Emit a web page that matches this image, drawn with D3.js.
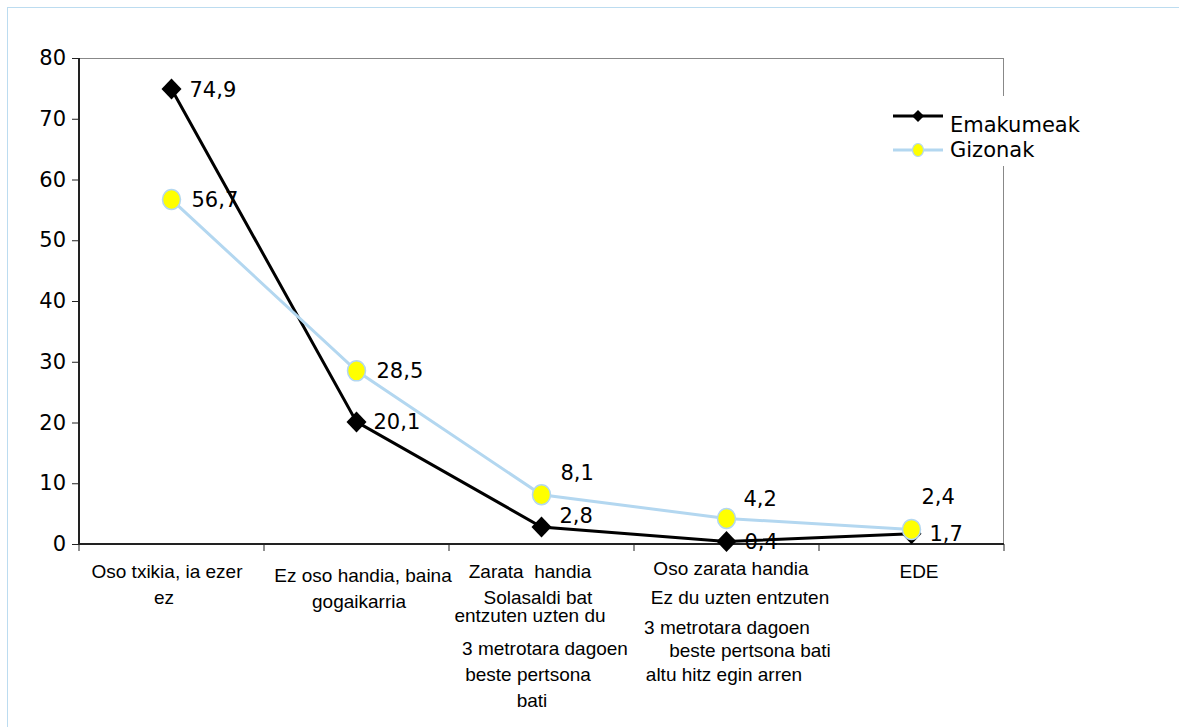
<!DOCTYPE html>
<html>
<head>
<meta charset="utf-8">
<script src="https://cdn.jsdelivr.net/npm/d3@7"></script>
<style>
  html, body { margin: 0; padding: 0; background: #fff; }
  svg { display: block; }
  .cat-label { white-space: pre; }
</style>
</head>
<body>
<svg id="chart" width="1179" height="727"></svg>
<script>
// kategoriak (lerroka)
const categories = [
  ['Oso txikia, ia ezer', 'ez'],
  ['Ez oso handia, baina', 'gogaikarria'],
  ['Zarata  handia', 'Solasaldi bat', 'entzuten uzten du', '3 metrotara dagoen', 'beste pertsona', 'bati'],
  ['Oso zarata handia', 'Ez du uzten entzuten', '3 metrotara dagoen', 'beste pertsona bati', 'altu hitz egin arren'],
  ['EDE']
];
const emakumeak = [74.9, 20.1, 2.8, 0.4, 1.7];
const gizonak = [56.7, 28.5, 8.1, 4.2, 2.4];
const seriesNames = ['Emakumeak', 'Gizonak'];
const yTicks = [0, 10, 20, 30, 40, 50, 60, 70, 80];

// etiketen kokapena (dx, dy) puntuarekiko
const emakLabelOffset = [[18, 0], [17, 0], [18, -12], [18, 0], [18, 0]];
const gizLabelOffset = [[20, 0], [20, 0], [19, -22], [17, -20], [10, -33]];
// kategoria etiketen lerroak: [dx, oinarri-lerroa ardatzetik]
const catLineLayout = [
  [[-4.5, 34], [-7.5, 60]],
  [[6.5, 38], [2.5, 64]],
  [[-11.5, 34], [-3.5, 60], [-11.5, 78], [3.5, 111], [-13.5, 137], [-9.5, 163]],
  [[4.5, 31], [13.5, 60], [0.5, 90], [23.5, 113], [-2.5, 137]],
  [[7.5, 34]]
];

const svg = d3.select('#chart');
const margin = { top: 58, left: 79, right: 175, bottom: 183 };
const width = 1179, height = 727;
const plotW = width - margin.left - margin.right;   // 925
const plotH = height - margin.top - margin.bottom;  // 486

const numFont = '"DejaVu Sans", Verdana, sans-serif';
const catFont = '"Liberation Sans", Arial, sans-serif';
const blue = '#b3d7f0';

// kanpoko ertza
svg.append('rect')
  .attr('x', 7.5).attr('y', 7.5)
  .attr('width', 1300).attr('height', 900)
  .attr('fill', 'none')
  .attr('stroke', '#bcdcf0')
  .attr('stroke-width', 1);

const g = svg.append('g').attr('transform', `translate(${margin.left},${margin.top})`);

const x = d3.scaleBand()
  .domain(d3.range(categories.length))
  .range([0, plotW]);
const y = d3.scaleLinear().domain([0, 80]).range([plotH, 0]);

// goiko eta eskuineko markoa
g.append('line').attr('x1', 0).attr('x2', plotW).attr('y1', 0.5).attr('y2', 0.5)
  .attr('stroke', '#888').attr('stroke-width', 1);
g.append('line').attr('x1', plotW - 0.5).attr('x2', plotW - 0.5).attr('y1', 0).attr('y2', plotH)
  .attr('stroke', '#888').attr('stroke-width', 1);

// Y ardatza
const yAxis = g.append('g')
  .call(d3.axisLeft(y).tickValues(yTicks).tickSize(7).tickPadding(6).tickFormat(d3.format('d')));
yAxis.select('.domain').attr('stroke', '#222').attr('stroke-width', 2).attr('d', `M0,0V${plotH}`);
yAxis.selectAll('.tick line').attr('stroke', '#222');
yAxis.selectAll('.tick text')
  .attr('font-family', numFont).attr('font-size', 21).attr('fill', '#000');

// X ardatza
const xAxis = g.append('g').attr('transform', `translate(0,${plotH})`);
xAxis.append('line').attr('x1', 0).attr('x2', plotW).attr('y1', 0).attr('y2', 0)
  .attr('stroke', '#222').attr('stroke-width', 2);
xAxis.selectAll('.xtick')
  .data(d3.range(categories.length + 1))
  .enter().append('line')
  .attr('x1', d => d * x.bandwidth()).attr('x2', d => d * x.bandwidth())
  .attr('y1', 0).attr('y2', 7)
  .attr('stroke', '#222').attr('stroke-width', 1);

categories.forEach((lines, i) => {
  const cx = x(i) + x.bandwidth() / 2;
  lines.forEach((t, j) => {
    const [dx, by] = catLineLayout[i][j];
    xAxis.append('text')
      .attr('class', 'cat-label')
      .attr('x', cx + dx).attr('y', by)
      .attr('text-anchor', 'middle')
      .attr('font-family', catFont).attr('font-size', 19)
      .attr('fill', '#000')
      .text(t);
  });
});

const cxOf = i => x(i) + x.bandwidth() / 2;
const line = d3.line().x((d, i) => cxOf(i)).y(d => y(d));

// lerroak
g.append('path').datum(emakumeak)
  .attr('d', line).attr('fill', 'none')
  .attr('stroke', '#000').attr('stroke-width', 3);
g.append('path').datum(gizonak)
  .attr('d', line).attr('fill', 'none')
  .attr('stroke', blue).attr('stroke-width', 3);

// markatzaileak
const diamond = 'M0,-10.5L10,0L0,10.5L-10,0Z';
g.selectAll('.emak-m').data(emakumeak).enter().append('path')
  .attr('class', 'emak-m')
  .attr('transform', (d, i) => `translate(${cxOf(i)},${y(d)})`)
  .attr('d', diamond).attr('fill', '#000');
g.selectAll('.giz-m').data(gizonak).enter().append('ellipse')
  .attr('class', 'giz-m')
  .attr('cx', (d, i) => cxOf(i)).attr('cy', d => y(d))
  .attr('rx', 9).attr('ry', 10)
  .attr('fill', '#ffff00').attr('stroke', blue).attr('stroke-width', 1.5);

// datu etiketak
const fmt = v => d3.format('.1f')(v).replace('.', ',');
function drawLabels(data, offsets) {
  g.selectAll(null).data(data).enter().append('text')
    .attr('x', (d, i) => cxOf(i) + offsets[i][0])
    .attr('y', (d, i) => y(d) + offsets[i][1])
    .attr('dy', '0.36em')
    .attr('font-family', numFont).attr('font-size', 21).attr('fill', '#000')
    .text(fmt);
}
drawLabels(emakumeak, emakLabelOffset);
drawLabels(gizonak, gizLabelOffset);

// legenda
const legend = svg.append('g');
legend.append('rect').attr('x', 885).attr('y', 96).attr('width', 125).attr('height', 70)
  .attr('fill', '#fff');
const legItems = [
  { name: seriesNames[0], ly: 116, ty: 132, color: '#000', marker: 'diamond' },
  { name: seriesNames[1], ly: 150, ty: 157, color: blue, marker: 'circle' }
];
legItems.forEach(it => {
  legend.append('line').attr('x1', 893).attr('x2', 943).attr('y1', it.ly).attr('y2', it.ly)
    .attr('stroke', it.color).attr('stroke-width', 3);
  if (it.marker === 'diamond') {
    legend.append('path').attr('d', 'M0,-6L6,0L0,6L-6,0Z')
      .attr('transform', `translate(918,${it.ly})`).attr('fill', '#000');
  } else {
    legend.append('ellipse').attr('cx', 918).attr('cy', it.ly).attr('rx', 5.5).attr('ry', 6.5)
      .attr('fill', '#ffff00').attr('stroke', blue).attr('stroke-width', 1.2);
  }
  legend.append('text').attr('x', 950).attr('y', it.ty)
    .attr('font-family', numFont).attr('font-size', 21).attr('fill', '#000')
    .text(it.name);
});
</script>
</body>
</html>
